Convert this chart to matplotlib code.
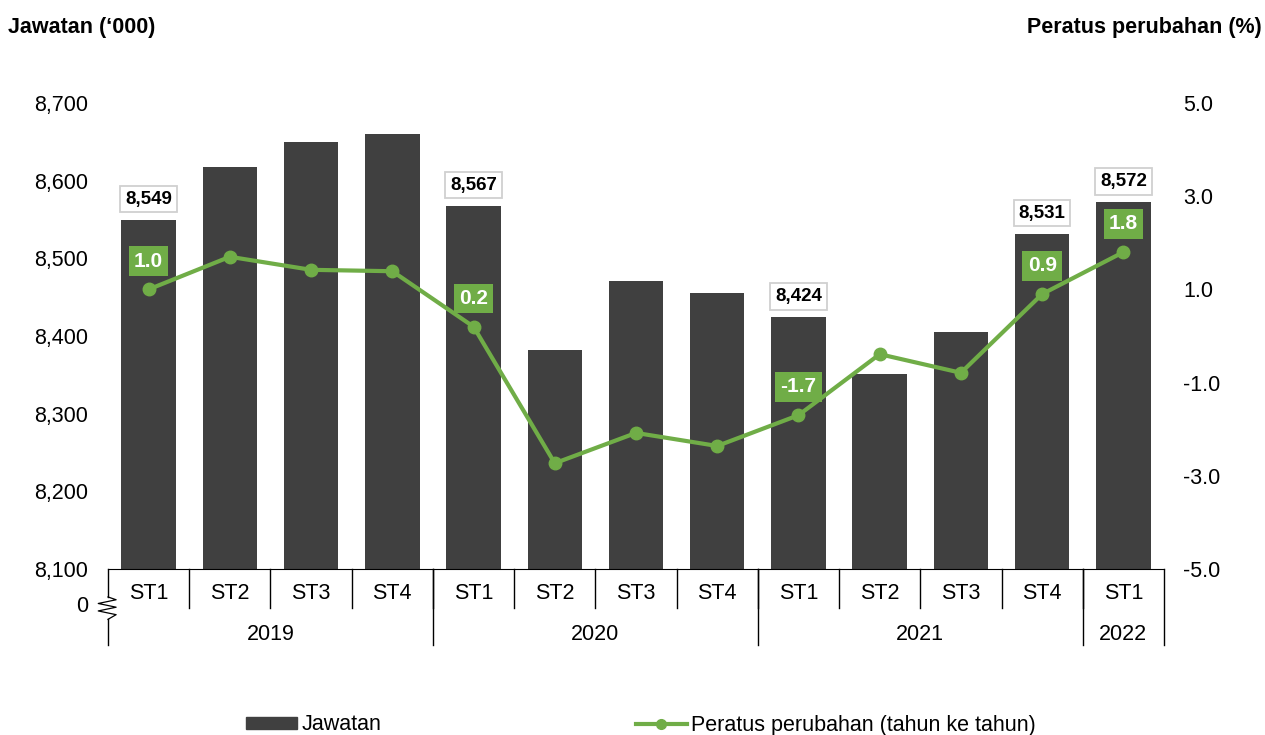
import matplotlib
matplotlib.use('Agg')
import matplotlib.pyplot as plt
import matplotlib.transforms as mtransforms
from matplotlib.patches import Patch
from matplotlib.lines import Line2D

plt.rcParams['font.family'] = ['Liberation Sans', 'DejaVu Sans']

# data
quarters = ['ST1', 'ST2', 'ST3', 'ST4', 'ST1', 'ST2', 'ST3', 'ST4',
            'ST1', 'ST2', 'ST3', 'ST4', 'ST1']
years = ['2019', '2020', '2021', '2022']
year_counts = [4, 4, 4, 1]
jawatan = [8549, 8618, 8650, 8660, 8567, 8382, 8471, 8455,
           8424, 8351, 8405, 8531, 8572]
peratus = [1.0, 1.7, 1.42, 1.39, 0.2, -2.73, -2.08, -2.36,
           -1.7, -0.39, -0.79, 0.9, 1.8]
bar_labels = [0, 4, 8, 11, 12]     # bars with value boxes
line_labels = [0, 4, 8, 11, 12]    # points with green boxes

BAR = '#404040'
GREEN = '#70AD47'
FS = 15.5

fig = plt.figure(figsize=(12.65, 7.35), dpi=100)
ax = fig.add_axes([108 / 1265, 1 - 569 / 735, (1164 - 108) / 1265, (569 - 103) / 735])
ax2 = ax.twinx()

x = list(range(len(jawatan)))
ax.bar(x, jawatan, width=0.67, color=BAR, zorder=2)
ax.set_ylim(8100, 8700)
ax.set_xlim(-0.5, len(jawatan) - 0.5)
ax.set_yticks(range(8100, 8701, 100))
ax.set_yticklabels([f'{v:,}' for v in range(8100, 8701, 100)])
ax.tick_params(axis='y', length=0, pad=14.5, labelsize=FS)
ax.set_xticks([])

ax2.plot(x, peratus, color=GREEN, lw=3, marker='o', ms=9, zorder=3)
ax2.set_ylim(-5, 5)
ax2.set_yticks([-5, -3, -1, 1, 3, 5])
ax2.set_yticklabels([f'{v:.1f}' for v in [-5, -3, -1, 1, 3, 5]])
ax2.tick_params(axis='y', length=0, pad=13.7, labelsize=FS)

for a in (ax, ax2):
    for s in ('top', 'left', 'right'):
        a.spines[s].set_visible(False)
ax.spines['bottom'].set_color('black')
ax2.spines['bottom'].set_visible(False)

# value boxes on the bars
for i in bar_labels:
    ax.annotate(f'{jawatan[i]:,}', (i, jawatan[i]), xytext=(0, 9),
                textcoords='offset points', ha='center', va='bottom',
                fontsize=13.5, fontweight='bold', color='black', zorder=5,
                bbox=dict(boxstyle='square,pad=0.25', fc='white', ec='#D0D0D0', lw=1.3))

# green boxes on the line
for i in line_labels:
    ax2.annotate(f'{peratus[i]:.1f}', (i, peratus[i]), xytext=(0, 13.5),
                 textcoords='offset points', ha='center', va='bottom',
                 fontsize=15, fontweight='bold', color='white', zorder=5,
                 bbox=dict(boxstyle='square,pad=0.25', fc=GREEN, ec='none'))

# category axis: quarter labels, year labels and separators
tr = mtransforms.blended_transform_factory(ax.transData, ax.transAxes)
for i, q in enumerate(quarters):
    ax.text(i, -0.053, q, transform=tr, ha='center', va='center', fontsize=FS)
for i in range(1, len(quarters)):
    ax.plot([i - 0.5, i - 0.5], [0, -0.084], transform=tr, color='black',
            lw=1, clip_on=False)

start = -0.5
bounds = [start]
for name, n in zip(years, year_counts):
    ax.text(start + n / 2, -0.14, name, transform=tr, ha='center', va='center', fontsize=FS)
    start += n
    bounds.append(start)
for b in bounds[1:]:
    ax.plot([b, b], [0, -0.163], transform=tr, color='black', lw=1, clip_on=False)

# left edge with axis break
ax.plot([-0.5, -0.5], [0, -0.060], transform=tr, color='black', lw=1, clip_on=False)
ax.plot([-0.5, -0.5], [-0.108, -0.163], transform=tr, color='black', lw=1, clip_on=False)
zx = [-0.5, -0.40, -0.62, -0.40, -0.62, -0.40, -0.5]
zy = [-0.060, -0.066, -0.074, -0.082, -0.090, -0.098, -0.108]
ax.plot(zx, zy, transform=tr, color='black', lw=0.9, clip_on=False)
ax.text(-0.745, -0.080, '0', transform=tr, ha='right', va='center', fontsize=FS)

fig.text(8 / 1265, 1 - 28 / 735, 'Jawatan (\u2018000)', fontsize=FS,
         fontweight='bold', ha='left', va='center')
fig.text(1262 / 1265, 1 - 28 / 735, 'Peratus perubahan (%)', fontsize=FS,
         fontweight='bold', ha='right', va='center')

handles = [Patch(color=BAR, label='Jawatan'),
           Line2D([0], [0], color=GREEN, lw=3, marker='o', ms=7,
                  label='Peratus perubahan (tahun ke tahun)')]
fig.legend(handles=handles, loc='center', bbox_to_anchor=(641 / 1265, 1 - 725 / 735),
           ncol=2, frameon=False, fontsize=FS, handlelength=2.37, handleheight=0.5,
           handletextpad=0.2, columnspacing=11.8, borderpad=0)

fig.savefig('out.png', dpi=100)
